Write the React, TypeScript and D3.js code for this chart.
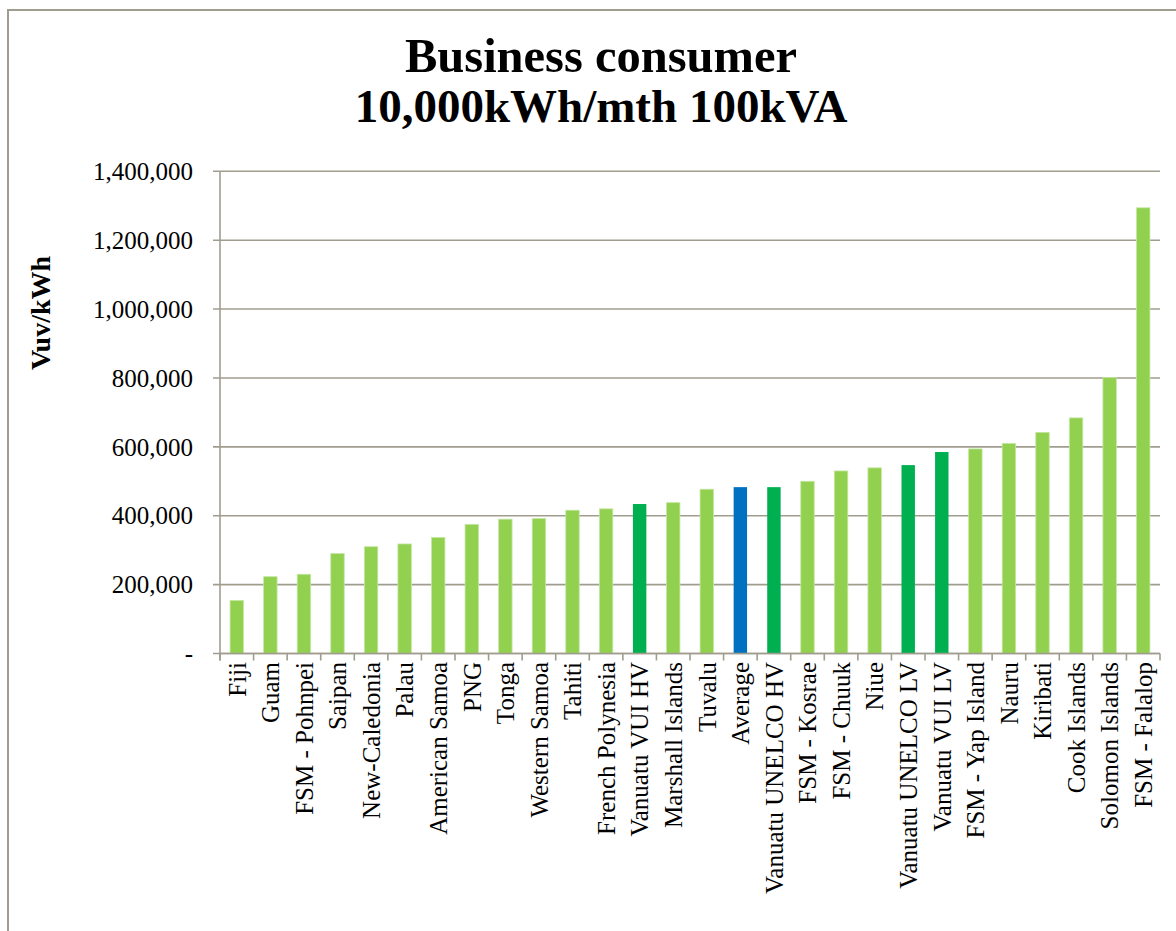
import React from "react";
import * as d3 from "d3";

const categories: string[] = [
  "Fiji", "Guam", "FSM - Pohnpei", "Saipan", "New-Caledonia", "Palau",
  "American Samoa", "PNG", "Tonga", "Western Samoa", "Tahiti", "French Polynesia",
  "Vanuatu VUI HV", "Marshall Islands", "Tuvalu", "Average", "Vanuatu UNELCO HV",
  "FSM - Kosrae", "FSM - Chuuk", "Niue", "Vanuatu UNELCO LV", "Vanuatu VUI LV",
  "FSM - Yap Island", "Nauru", "Kiribati", "Cook Islands", "Solomon Islands", "FSM - Falalop",
];

const values: number[] = [
  154000, 223000, 230000, 290000, 310000, 318000,
  337000, 375000, 390000, 392000, 416000, 420000,
  434000, 438000, 477000, 483000, 483000,
  500000, 530000, 539000, 547000, 585000,
  594000, 610000, 642000, 684000, 801000, 1294000,
];

// bar group per category: "other", "vanuatu", "average"
const groups: string[] = categories.map((c) =>
  c === "Average" ? "average" : c.startsWith("Vanuatu") ? "vanuatu" : "other"
);

const yTicks: number[] = [0, 200000, 400000, 600000, 800000, 1000000, 1200000, 1400000];

const title1 = "Business consumer";
const title2 = "10,000kWh/mth 100kVA";
const yTitle = "Vuv/kWh";

const colors: Record<string, string> = {
  other: "#92D050",
  vanuatu: "#00B050",
  average: "#0070C0",
};

const W = 1176;
const H = 931;
const left = 220;
const right = 1160;
const top = 171.3;
const bottom = 653.5;
const gridColor = "#a09d8f";
const font = "'Liberation Serif', 'Times New Roman', serif";

export default function App() {
  const x = d3
    .scaleBand<string>()
    .domain(categories)
    .range([left, right])
    .paddingInner(0.6)
    .paddingOuter(0.3);
  const step = (right - left) / categories.length;
  const y = d3.scaleLinear().domain([0, 1400000]).range([bottom, top]);
  const fmt = d3.format(",");

  return (
    <svg
      width={W}
      height={H}
      style={{ position: "absolute", left: 0, top: 0, background: "#fff" }}
      fontFamily={font}
    >
      <rect x={0} y={0} width={W} height={H} fill="#fff" />
      {/* frame */}
      <line x1={8} y1={10} x2={W} y2={10} stroke={gridColor} strokeWidth={2} />
      <line x1={8} y1={9} x2={8} y2={H} stroke={gridColor} strokeWidth={2} />

      {/* title */}
      <text x={601} y={72} textAnchor="middle" fontSize={48.5} fontWeight="bold" fill="#000">
        {title1}
      </text>
      <text x={601} y={122} textAnchor="middle" fontSize={47} fontWeight="bold" fill="#000">
        {title2}
      </text>

      {/* y title */}
      <text
        transform={`translate(50,313) rotate(-90)`}
        textAnchor="middle"
        fontSize={28}
        fontWeight="bold"
        fill="#000"
      >
        {yTitle}
      </text>

      {/* gridlines + y ticks */}
      {yTicks.map((t) => (
        <g key={t}>
          <line x1={left - 7} x2={right} y1={y(t)} y2={y(t)} stroke={gridColor} strokeWidth={1.6} />
          <text
            x={193}
            y={y(t)}
            dy="0.35em"
            textAnchor="end"
            fontSize={25}
            fill="#000"
          >
            {t === 0 ? "-" : fmt(t)}
          </text>
        </g>
      ))}

      {/* y axis */}
      <line x1={left} x2={left} y1={top} y2={bottom + 7} stroke={gridColor} strokeWidth={1.6} />

      {/* x ticks */}
      {d3.range(categories.length + 1).map((i) => (
        <line
          key={i}
          x1={left + i * step}
          x2={left + i * step}
          y1={bottom}
          y2={bottom + 7}
          stroke={gridColor}
          strokeWidth={1.6}
        />
      ))}

      {/* bars */}
      {categories.map((c, i) => (
        <rect
          key={c}
          x={x(c)!}
          y={y(values[i])}
          width={x.bandwidth()}
          height={bottom - y(values[i])}
          fill={colors[groups[i]]}
          stroke={groups[i] === "other" ? "#c4e6a2" : "none"}
          strokeWidth={0.8}
        />
      ))}

      {/* baseline drawn over bars */}
      <line x1={left} x2={right} y1={bottom} y2={bottom} stroke={gridColor} strokeWidth={1.6} />

      {/* x labels */}
      {categories.map((c) => (
        <text
          key={c}
          transform={`translate(${x(c)! + x.bandwidth() / 2},662) rotate(-90)`}
          textAnchor="end"
          dy="0.35em"
          fontSize={25}
          fill="#000"
        >
          {c}
        </text>
      ))}
    </svg>
  );
}
